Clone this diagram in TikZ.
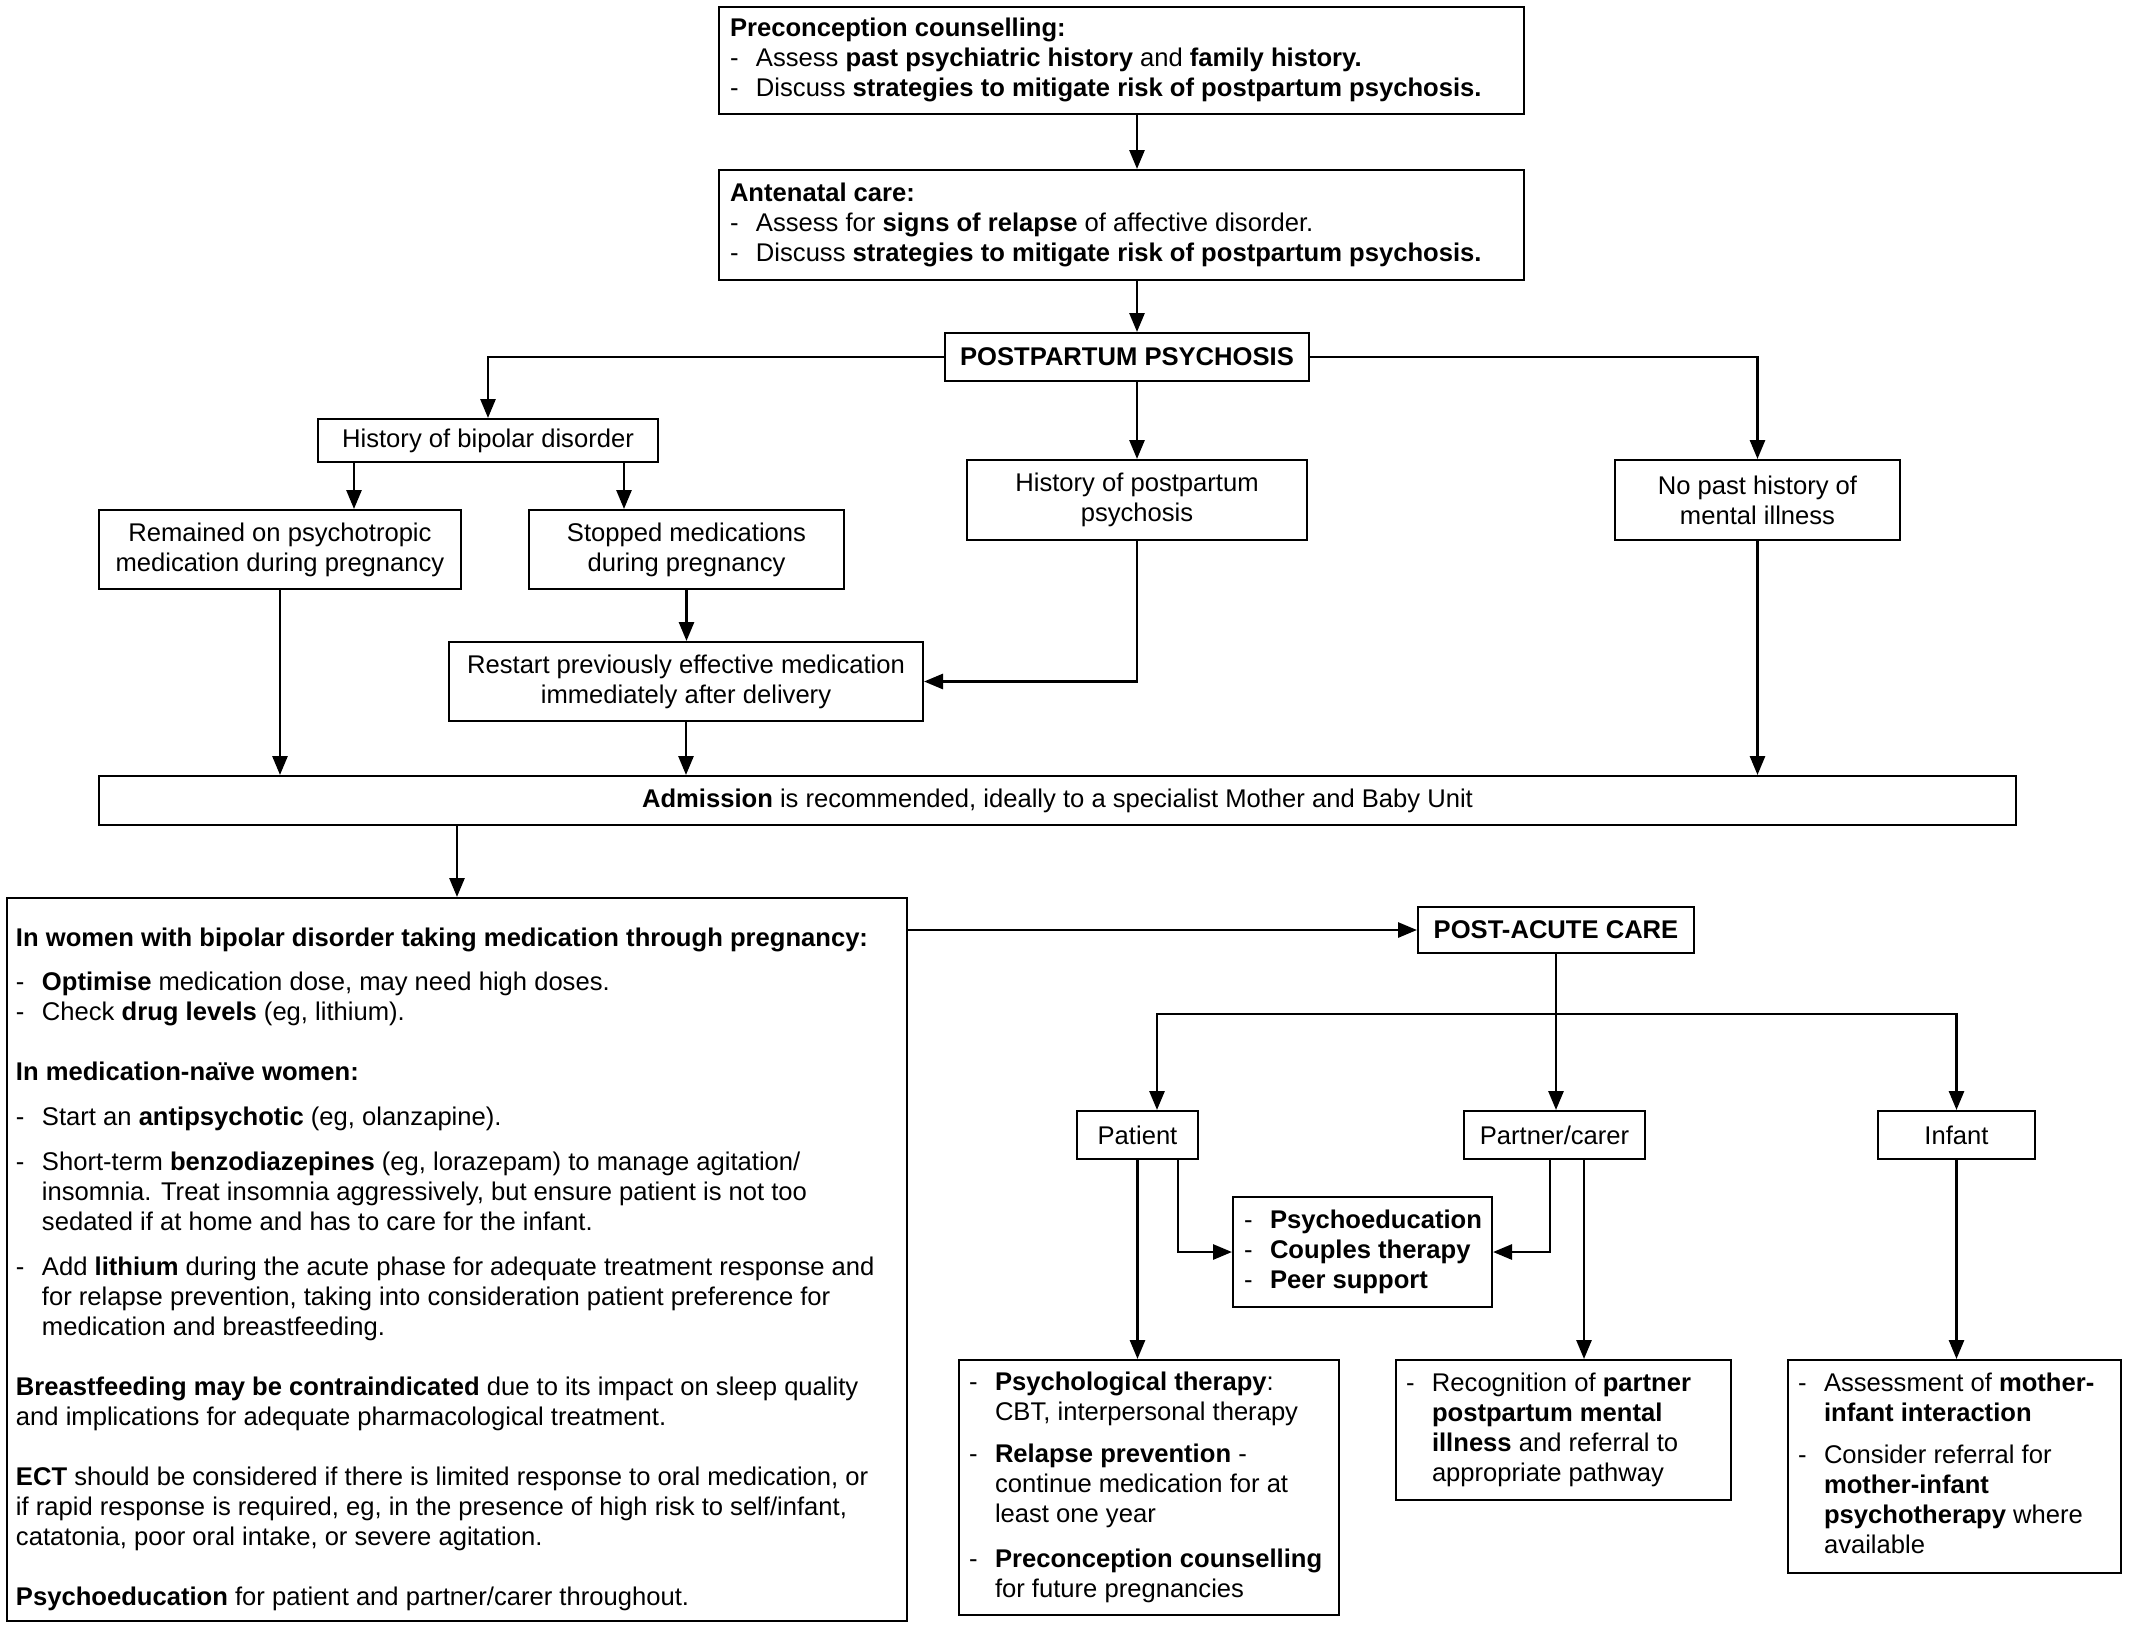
\documentclass[tikz,border=0pt]{standalone}
\usepackage{fontspec}
\setmainfont{Liberation Sans}
\usetikzlibrary{arrows.meta}
\newcommand{\dsh}{\makebox[13pt][l]{-}}
\newcommand{\ind}{\hspace*{13pt}}
\newcommand{\ltab}[2]{\makebox[#1][l]{\begin{tabular}{@{}l@{}}#2\end{tabular}}}
\begin{document}
\begin{tikzpicture}[x=0.5pt,y=-0.5pt,
  box/.style={draw, line width=1pt, inner sep=2pt, font=\fontsize{12.8}{15}\selectfont, align=center},
  lbox/.style={box, inner ysep=0pt},
  arr/.style={line width=1.4pt, -{Triangle[length=9.5pt,width=7.5pt]}},
  ln/.style={line width=1.4pt}
]
\useasboundingbox (0,0) rectangle (2132,1628);

% top chain
\node[lbox, inner xsep=5.5pt, minimum width=402.5pt, minimum height=53.5pt] (pre) at (1121.5,60.5)
 {\ltab{391.5pt}{\textbf{Preconception counselling:}\\
 \dsh Assess \textbf{past psychiatric history} and \textbf{family history.}\\
 \dsh Discuss \textbf{strategies to mitigate risk of postpartum psychosis.}}};
\node[lbox, inner xsep=5.5pt, minimum width=402.5pt, minimum height=55pt] (ante) at (1121.5,225)
 {\ltab{391.5pt}{\textbf{Antenatal care:}\\
 \dsh Assess for \textbf{signs of relapse} of affective disorder.\\
 \dsh Discuss \textbf{strategies to mitigate risk of postpartum psychosis.}}};
\node[box, minimum width=182pt, minimum height=24pt] (pp) at (1127,357) {\textbf{POSTPARTUM PSYCHOSIS}};

% second level
\node[box, minimum width=170pt, minimum height=21.5pt] (bip) at (488,440.5) {History of bipolar disorder};
\node[box, minimum width=181pt, minimum height=39.5pt] (rem) at (280,549.5) {Remained on psychotropic\\medication during pregnancy};
\node[box, minimum width=157.5pt, minimum height=39.5pt] (stop) at (686.5,549.5) {Stopped medications\\during pregnancy};
\node[box, minimum width=237pt, minimum height=39.5pt] (restart) at (686,681.5) {Restart previously effective medication\\immediately after delivery};
\node[box, minimum width=170pt, minimum height=40pt] (hpp) at (1137,500) {History of postpartum\\psychosis};
\node[box, minimum width=142.5pt, minimum height=40pt] (nopast) at (1757.5,500) {No past history of\\mental illness};
\node[box, minimum width=958.5pt, minimum height=24.5pt] (adm) at (1057.5,800.5) {\textbf{Admission} is recommended, ideally to a specialist Mother and Baby Unit};

% big left box
\node[lbox, inner xsep=4.5pt, minimum width=450pt, minimum height=361.5pt] (big) at (457,1259.5)
 {\ltab{441pt}{\rule{0pt}{20.5pt}\textbf{In women with bipolar disorder taking medication through pregnancy:}\\[7pt]
 \dsh\textbf{Optimise} medication dose, may need high doses.\\
 \dsh Check \textbf{drug levels} (eg, lithium).\\[15pt]
 \textbf{In medication-naïve women:}\\[7.5pt]
 \dsh Start an \textbf{antipsychotic} (eg, olanzapine).\\[7.5pt]
 \dsh Short-term \textbf{benzodiazepines} (eg, lorazepam) to manage agitation/\\
 \ind insomnia. Treat insomnia aggressively, but ensure patient is not too\\
 \ind sedated if at home and has to care for the infant.\\[7.5pt]
 \dsh Add \textbf{lithium} during the acute phase for adequate treatment response and\\
 \ind for relapse prevention, taking into consideration patient preference for\\
 \ind medication and breastfeeding.\\[15pt]
 \textbf{Breastfeeding may be contraindicated} due to its impact on sleep quality\\
 and implications for adequate pharmacological treatment.\\[15pt]
 \textbf{ECT} should be considered if there is limited response to oral medication, or\\
 if rapid response is required, eg, in the presence of high risk to self/infant,\\
 catatonia, poor oral intake, or severe agitation.\\[15pt]
 \textbf{Psychoeducation} for patient and partner/carer throughout.}};

% post-acute
\node[box, minimum width=138pt, minimum height=23pt] (post) at (1556,930) {\textbf{POST-ACUTE CARE}};
\node[box, minimum width=60.5pt, minimum height=24pt] (patient) at (1137.5,1135) {Patient};
\node[box, minimum width=90.5pt, minimum height=24pt] (partner) at (1554.5,1135) {Partner/carer};
\node[box, minimum width=78.5pt, minimum height=24pt] (infant) at (1956.5,1135) {Infant};
\node[lbox, inner xsep=5.5pt, minimum width=129.5pt, minimum height=55pt] (psy) at (1362.5,1252)
 {\ltab{118.5pt}{\dsh\textbf{Psychoeducation}\\ \dsh\textbf{Couples therapy}\\ \dsh\textbf{Peer support}}};
\node[lbox, inner xsep=5pt, minimum width=190pt, minimum height=127.5pt] (patdet) at (1149,1487.5)
 {\ltab{180pt}{\dsh\textbf{Psychological therapy}:\\
 \ind CBT, interpersonal therapy\\[6pt]
 \dsh\textbf{Relapse prevention} -\\
 \ind continue medication for at\\
 \ind least one year\\[7.5pt]
 \dsh\textbf{Preconception counselling}\\
 \ind for future pregnancies}};
\node[lbox, inner xsep=5pt, minimum width=167.5pt, minimum height=70pt] (partdet) at (1563.5,1430)
 {\ltab{157.5pt}{\dsh Recognition of \textbf{partner}\\
 \ind\textbf{postpartum mental}\\
 \ind\textbf{illness} and referral to\\
 \ind appropriate pathway}};
\node[lbox, inner xsep=5pt, minimum width=166.5pt, minimum height=106.5pt] (infdet) at (1954.5,1466.5)
 {\ltab{156.5pt}{\dsh Assessment of \textbf{mother-}\\
 \ind\textbf{infant interaction}\\[6pt]
 \dsh Consider referral for\\
 \ind\textbf{mother-infant}\\
 \ind\textbf{psychotherapy} where\\
 \ind available}};

% column coordinates
\coordinate (cA) at (1137,0);
\coordinate (cB) at (354,0);
\coordinate (cC) at (624,0);
\coordinate (bar) at (0,1014);
\coordinate (cP) at (1157,0);
\coordinate (cP2) at (1178,0);
\coordinate (cQ1) at (1550,0);
\coordinate (cQ2) at (1584,0);

% connectors
\draw[arr] (pre.south -| cA) -- (ante.north -| cA);
\draw[arr] (ante.south -| cA) -- (pp.north -| cA);
\draw[arr] (pp.south -| hpp.north) -- (hpp.north);
\draw[arr] (pp.west) -| (bip.north);
\draw[arr] (pp.east) -| (nopast.north);
\draw[arr] (bip.south -| cB) -- (rem.north -| cB);
\draw[arr] (bip.south -| cC) -- (stop.north -| cC);
\draw[arr] (stop.south) -- (restart.north -| stop.south);
\draw[arr] (hpp.south) |- (restart.east);
\draw[arr] (rem.south) -- (rem.south |- adm.north);
\draw[arr] (restart.south) -- (restart.south |- adm.north);
\draw[arr] (nopast.south) -- (nopast.south |- adm.north);
\draw[arr] (adm.south -| big.north) -- (big.north);
\draw[arr] (big.east |- post.west) -- (post.west);
\draw[ln] (post.south) -- (post.south |- bar);
\draw[arr] (post.south |- bar) -| (patient.north -| cP);
\draw[arr] (post.south |- bar) -| (infant.north);
\draw[arr] (post.south |- bar) -- (partner.north -| post.south);
\draw[arr] (patient.south) -- (patdet.north -| patient.south);
\draw[arr] (patient.south -| cP2) |- (psy.west);
\draw[arr] (partner.south -| cQ1) |- (psy.east);
\draw[arr] (partner.south -| cQ2) -- (partdet.north -| cQ2);
\draw[arr] (infant.south) -- (infdet.north -| infant.south);
\end{tikzpicture}
\end{document}
